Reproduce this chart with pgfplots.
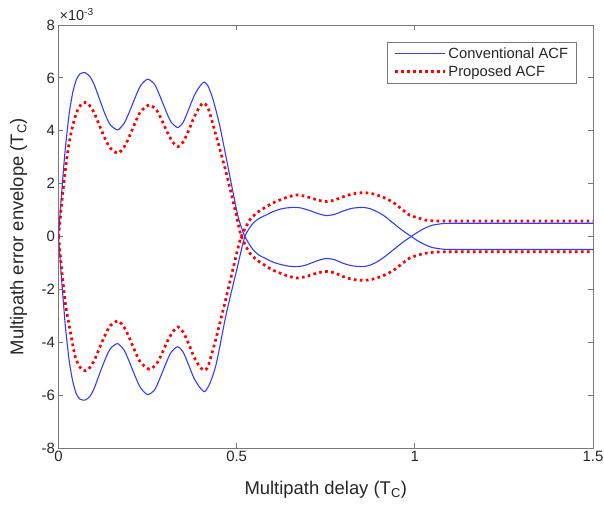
\documentclass[border=0pt]{standalone}
\usepackage{fontspec}
\setmainfont{Liberation Sans}
\usepackage{pgfplots}
\pgfplotsset{compat=1.18}
\definecolor{axgray}{RGB}{120,120,120}
\definecolor{txt}{RGB}{38,38,38}
\definecolor{mblue}{RGB}{50,60,255}
\begin{document}
\begin{tikzpicture}
\begin{axis}[name=ax,
 scale only axis, width=534.5bp, height=423bp,
 xmin=0,xmax=1.5,ymin=-8,ymax=8,
 xtick={0,0.5,1,1.5}, ytick={-8,-6,-4,-2,0,2,4,6,8},
 tick align=inside, major tick length=5bp,
 axis line style={axgray, line width=0.8pt},
 tick style={axgray, line width=0.8pt},
 every tick label/.append style={font=\fontsize{15}{17}\selectfont, text=txt},
 /pgf/number format/assume math mode=true,
 legend style={at={(0.970,0.960)}, anchor=north east, draw=axgray, line width=0.8pt,
   font=\fontsize{14.8}{17}\selectfont, text=txt, inner xsep=6.5bp, inner ysep=3.5bp,
   row sep=1.5bp},
 legend cell align=left,
]
\addplot[mblue, line width=1.1bp, smooth, tension=0.4,
  legend image code/.code={\draw[mblue, line width=1.1bp, solid] (0bp,0bp) -- (50bp,0bp);}] coordinates {
(0,0) (0.005,0.95) (0.01,1.85) (0.015,2.7) (0.02,3.45) (0.03,4.65) (0.04,5.45)
(0.05,5.93) (0.06,6.15) (0.074,6.2) (0.088,6.05) (0.1,5.75) (0.115,5.2) (0.13,4.65)
(0.145,4.23) (0.166,4.03) (0.185,4.3) (0.2,4.75) (0.215,5.25) (0.23,5.7) (0.25,5.95)
(0.27,5.75) (0.285,5.3) (0.3,4.8) (0.315,4.35) (0.334,4.12) (0.35,4.32) (0.365,4.8)
(0.38,5.3) (0.395,5.65) (0.409,5.84) (0.42,5.68) (0.434,5.17) (0.453,4.16) (0.481,2.27)
(0.504,0.75) (0.523,0) (0.546,-0.5) (0.565,-0.72) (0.584,-0.85) (0.6,-0.96) (0.621,-1.05)
(0.645,-1.12) (0.668,-1.14) (0.69,-1.1) (0.71,-1.0) (0.73,-0.9) (0.752,-0.83) (0.775,-0.88)
(0.8,-1.02) (0.825,-1.11) (0.855,-1.14) (0.875,-1.08) (0.895,-0.95) (0.915,-0.77) (0.94,-0.5)
(0.965,-0.23) (0.99,0) (1.01,0.18) (1.03,0.33) (1.05,0.43) (1.08,0.49) (1.12,0.5) (1.5,0.5)
};
\addlegendentry{Conventional ACF}
\addplot[mblue, line width=1.1bp, smooth, tension=0.4, forget plot] coordinates {
(0,0) (0.005,-0.95) (0.01,-1.85) (0.015,-2.7) (0.02,-3.5) (0.03,-4.7) (0.04,-5.48)
(0.05,-5.95) (0.06,-6.15) (0.074,-6.19) (0.088,-6.05) (0.1,-5.75) (0.115,-5.2) (0.13,-4.68)
(0.145,-4.25) (0.166,-4.05) (0.185,-4.32) (0.2,-4.78) (0.215,-5.28) (0.23,-5.72) (0.25,-5.98)
(0.27,-5.8) (0.285,-5.35) (0.3,-4.85) (0.315,-4.4) (0.334,-4.17) (0.35,-4.38) (0.365,-4.85)
(0.38,-5.35) (0.395,-5.68) (0.41,-5.87) (0.425,-5.55) (0.443,-4.8) (0.471,-2.91) (0.5,-1.27)
(0.523,0) (0.546,0.5) (0.565,0.7) (0.584,0.82) (0.6,0.93) (0.621,1.03) (0.64,1.08)
(0.658,1.1) (0.68,1.08) (0.705,0.98) (0.73,0.86) (0.752,0.79) (0.775,0.84) (0.8,0.97)
(0.825,1.07) (0.855,1.1) (0.875,1.05) (0.895,0.93) (0.915,0.77) (0.94,0.5) (0.965,0.23)
(0.99,0) (1.01,-0.18) (1.03,-0.32) (1.05,-0.42) (1.08,-0.48) (1.12,-0.49) (1.5,-0.49)
};
\addplot[red, line width=2.7bp, dash pattern=on 2.7bp off 3.3bp, smooth, tension=0.4,
  legend image code/.code={\draw[red, line width=2.7bp, dash pattern=on 2.7bp off 3.3bp] (0bp,0bp) -- (50bp,0bp);}] coordinates {
(0,0) (0.005,0.7) (0.01,1.4) (0.02,2.6) (0.027,3.3) (0.035,3.9) (0.045,4.45) (0.055,4.82)
(0.065,5.02) (0.075,5.07) (0.085,5.0) (0.1,4.68) (0.115,4.2) (0.13,3.72) (0.145,3.35)
(0.167,3.15) (0.185,3.4) (0.2,3.82) (0.215,4.3) (0.23,4.72) (0.255,4.98) (0.275,4.78)
(0.29,4.4) (0.305,3.95) (0.32,3.58) (0.335,3.4) (0.35,3.58) (0.365,4.0) (0.38,4.5)
(0.395,4.88) (0.406,5.05) (0.42,4.85) (0.443,3.78) (0.471,2.39) (0.5,0.75) (0.513,0)
(0.537,-0.63) (0.56,-0.92) (0.584,-1.13) (0.6,-1.26) (0.621,-1.38) (0.645,-1.5) (0.668,-1.57)
(0.69,-1.53) (0.71,-1.45) (0.73,-1.37) (0.752,-1.32) (0.775,-1.38) (0.8,-1.52) (0.825,-1.62)
(0.855,-1.66) (0.88,-1.62) (0.902,-1.53) (0.92,-1.43) (0.94,-1.28) (0.962,-1.05) (0.985,-0.82)
(1.01,-0.7) (1.03,-0.63) (1.06,-0.59) (1.1,-0.58) (1.5,-0.58)
};
\addlegendentry{Proposed ACF}
\addplot[red, line width=2.7bp, dash pattern=on 2.7bp off 3.3bp, smooth, tension=0.4, forget plot] coordinates {
(0,0) (0.005,-0.7) (0.01,-1.4) (0.02,-2.6) (0.032,-3.5) (0.045,-4.45) (0.055,-4.82)
(0.065,-5.03) (0.075,-5.08) (0.085,-5.01) (0.1,-4.7) (0.115,-4.22) (0.13,-3.75) (0.145,-3.38)
(0.167,-3.19) (0.185,-3.45) (0.2,-3.87) (0.215,-4.35) (0.23,-4.76) (0.255,-5.02) (0.275,-4.82)
(0.29,-4.44) (0.305,-3.98) (0.32,-3.62) (0.335,-3.42) (0.35,-3.62) (0.365,-4.05) (0.38,-4.55)
(0.395,-4.9) (0.408,-5.06) (0.42,-4.9) (0.443,-3.8) (0.471,-2.28) (0.5,-0.64) (0.513,0)
(0.537,0.63) (0.56,0.93) (0.584,1.13) (0.6,1.26) (0.621,1.38) (0.645,1.5) (0.668,1.57)
(0.69,1.53) (0.71,1.45) (0.73,1.37) (0.752,1.32) (0.775,1.38) (0.8,1.51) (0.825,1.61)
(0.855,1.66) (0.88,1.62) (0.902,1.53) (0.92,1.43) (0.94,1.28) (0.962,1.05) (0.985,0.81)
(1.01,0.7) (1.03,0.62) (1.06,0.59) (1.1,0.585) (1.5,0.585)
};
\end{axis}
\node[anchor=base west, text=txt, font=\fontsize{14.5}{16}\selectfont, inner sep=0pt]
  at ([xshift=1bp,yshift=4bp]ax.north west) {×10\textsuperscript{-3}};
\node[text=txt, font=\fontsize{18.5}{21}\selectfont, inner sep=0pt]
  at ([yshift=-42bp]ax.south) {Multipath delay (T\textsubscript{C})};
\node[text=txt, font=\fontsize{18.5}{21}\selectfont, inner sep=0pt, rotate=90]
  at ([xshift=-40bp]ax.west) {Multipath error envelope (T\textsubscript{C})};
\pgfresetboundingbox
\path ([xshift=-58.5bp,yshift=-57bp]ax.south west) rectangle ([xshift=11bp,yshift=25bp]ax.north east);
\end{tikzpicture}
\end{document}
